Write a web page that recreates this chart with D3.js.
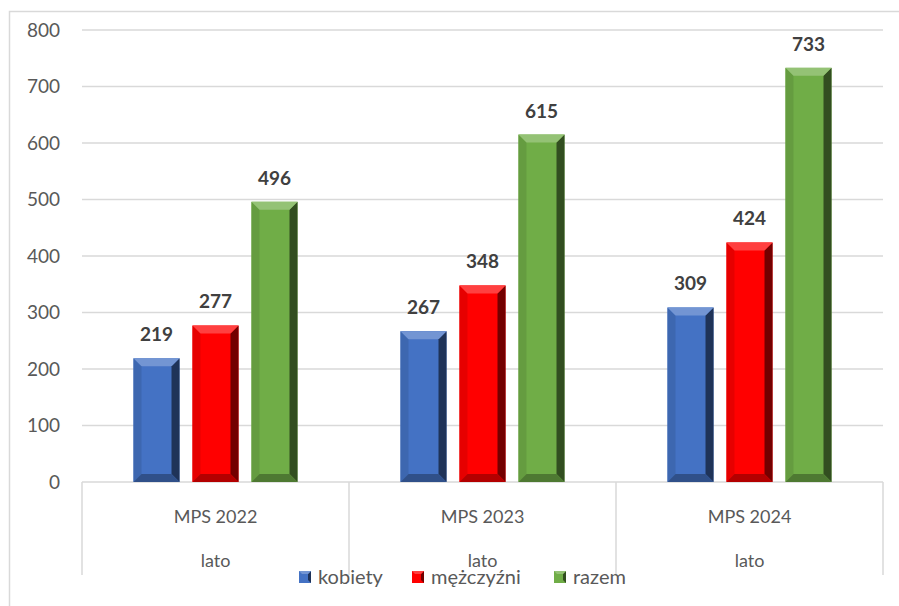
<!DOCTYPE html>
<html><head><meta charset="utf-8">
<script src="https://cdn.jsdelivr.net/npm/d3@7"></script>
<style>body{margin:0;background:#fff;}svg{display:block;font-family:Lato,"Open Sans",sans-serif;}</style>
</head><body><svg id="c" width="899" height="606"></svg>
<script>
const categories = ["MPS 2022", "MPS 2023", "MPS 2024"];
const subLabels = ["lato", "lato", "lato"];
const seriesNames = ["kobiety", "mężczyźni", "razem"];
const kobiety = [219, 267, 309];
const mezczyzni = [277, 348, 424];
const razem = [496, 615, 733];
const yTicks = [0, 100, 200, 300, 400, 500, 600, 700, 800];
const colors = ["#4472C4", "#FF0000", "#70AD47"];

const series = [kobiety, mezczyzni, razem];
const svg = d3.select("#c");
const L = 82, R = 883, T = 30, B = 482;
const x0 = d3.scaleBand().domain(categories).range([L, R]).paddingInner(0).paddingOuter(0);
const x1 = d3.scaleBand().domain(seriesNames).range([0, x0.bandwidth()]).paddingInner(0.22).paddingOuter(0.873);
const y = d3.scaleLinear().domain([0, 800]).range([B, T]);

// outer border
svg.append("path").attr("d", `M9.5,606 V11.5 H899`).attr("fill","none").attr("stroke","#d9d9d9").attr("stroke-width",1.5);

// gridlines
svg.append("g").selectAll("line").data(yTicks).join("line")
  .attr("x1", L).attr("x2", R).attr("y1", d=>y(d)).attr("y2", d=>y(d))
  .attr("stroke", "#d9d9d9").attr("stroke-width", 1.5);

// y tick labels
svg.append("g").selectAll("text").data(yTicks).join("text")
  .attr("x", 60).attr("y", d=>y(d)).attr("dy","0.36em").attr("text-anchor","end")
  .attr("fill","#595959").attr("font-size",19).text(d=>d);

// category axis box lines
const bounds = categories.map(c=>x0(c)).concat([R]);
svg.append("g").selectAll("line").data(bounds).join("line")
  .attr("x1", d=>d).attr("x2", d=>d).attr("y1", B).attr("y2", 575)
  .attr("stroke","#d9d9d9").attr("stroke-width",1.5);

svg.append("g").selectAll("text").data(categories).join("text")
  .attr("x", d=>x0(d)+x0.bandwidth()/2).attr("y", 517).attr("dy","0.36em").attr("text-anchor","middle")
  .attr("fill","#595959").attr("font-size",18).text(d=>d);
svg.append("g").selectAll("text").data(categories).join("text")
  .attr("x", d=>x0(d)+x0.bandwidth()/2).attr("y", 561).attr("dy","0.36em").attr("text-anchor","middle")
  .attr("fill","#595959").attr("font-size",18).text((d,i)=>subLabels[i]);

// bars with bevel
function shade(c, k){ return k>0 ? d3.interpolateRgb(c,"#fff")(k) : d3.interpolateRgb(c,"#000")(-k); }
const bars = [];
series.forEach((vals, si) => vals.forEach((v, ci) => bars.push({si, ci, v})));
const g = svg.append("g");
bars.forEach(b => {
  const xL = x0(categories[b.ci]) + x1(seriesNames[b.si]);
  const w = x1.bandwidth();
  const xR = xL + w, yT = y(b.v), yB = y(0);
  const e = 8, c = colors[b.si];
  const bg = g.append("g");
  bg.append("rect").attr("x", xL).attr("y", yT).attr("width", w).attr("height", yB-yT).attr("fill", c);
  bg.append("polygon").attr("points", `${xL},${yT} ${xL+e},${yT+e} ${xL+e},${yB-e} ${xL},${yB}`).attr("fill", shade(c,-0.1));
  bg.append("polygon").attr("points", `${xR},${yT} ${xR-e},${yT+e} ${xR-e},${yB-e} ${xR},${yB}`).attr("fill", shade(c,-0.55));
  bg.append("polygon").attr("points", `${xL},${yT} ${xR},${yT} ${xR-e},${yT+e} ${xL+e},${yT+e}`).attr("fill", shade(c,0.25));
  bg.append("polygon").attr("points", `${xL},${yB} ${xR},${yB} ${xR-e},${yB-e} ${xL+e},${yB-e}`).attr("fill", shade(c,-0.3));
  g.append("text").attr("x", xL + w/2).attr("y", yT - 17).attr("text-anchor","middle")
    .attr("fill","#404040").attr("font-size",19).attr("font-weight","bold").text(b.v);
});

// legend
const legX = [299, 412, 554];
const lg = svg.append("g");
seriesNames.forEach((n, i) => {
  const c = colors[i], s = 12, lx = legX[i], ly = 571;
  lg.append("rect").attr("x", lx).attr("y", ly).attr("width", s).attr("height", s).attr("fill", c);
  lg.append("polygon").attr("points", `${lx+s},${ly} ${lx+s-3},${ly+3} ${lx+s-3},${ly+s-3} ${lx+s},${ly+s}`).attr("fill", shade(c,-0.55));
  lg.append("polygon").attr("points", `${lx},${ly} ${lx+s},${ly} ${lx+s-3},${ly+3} ${lx+3},${ly+3}`).attr("fill", shade(c,0.25));
  lg.append("text").attr("x", lx + 19).attr("y", ly + s/2).attr("dy","0.36em")
    .attr("fill","#595959").attr("font-size",20).text(n);
});
</script></body></html>
